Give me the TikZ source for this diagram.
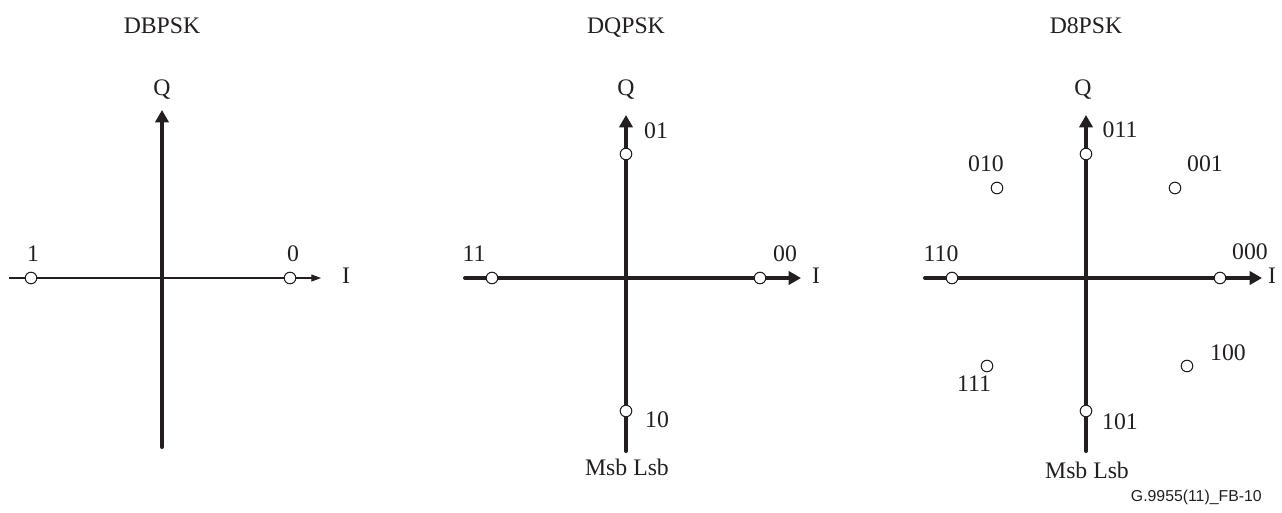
\documentclass[tikz,border=0pt]{standalone}
\usepackage{fontspec}
\setmainfont{Liberation Serif}
\newfontfamily\capfont{Liberation Sans}
\definecolor{axgray}{RGB}{35,31,32}
\usetikzlibrary{arrows.meta,positioning}

\begin{document}
\begin{tikzpicture}[x=0.02cm, y=-0.02cm, color=axgray,
  lbl/.style={font=\fontsize{13.5}{15}\selectfont, inner sep=0pt, anchor=base},
  pt/.style={circle, draw=axgray, fill=white, line width=0.6pt, minimum size=6.6pt, inner sep=0pt},
  axthick/.style={line width=2.3pt, line cap=round, -{Triangle[length=7pt,width=7.5pt]}},
  axthin/.style={line width=0.6pt, -{Triangle[length=5.5pt,width=4pt]}}]
  \useasboundingbox (0,0) rectangle (1282,512);
  % DBPSK
  \node[lbl] (tB) at (162,33) {DBPSK};
  \coordinate (bL) at (9,278);
  \coordinate (bR) at (321,278);
  \coordinate (bD) at (162,447);
  \coordinate (bU) at (162,110);
  \draw[axthin] (bL) -- (bR);
  \draw[axthick] (bD) -- (bU);
  \node[pt] (b1) at (31,278) {};
  \node[pt] (b0) at (290,278) {};
  \node[lbl] (qB) at (162,95) {Q};
  \node[lbl] (iB) at (346,283) {I};
  \node[lbl] (lb1) at (33,261) {1};
  \node[lbl] (lb0) at (293,261) {0};
  % DQPSK
  \node[lbl] (tQ) at (626,33) {DQPSK};
  \coordinate (qL) at (465,278);
  \coordinate (qR) at (801,278);
  \coordinate (qD) at (626,451);
  \coordinate (qU) at (626,115);
  \draw[axthick] (qL) -- (qR);
  \draw[axthick] (qD) -- (qU);
  \node[pt] (q01) at (626,154) {};
  \node[pt] (q10) at (626,411) {};
  \node[pt] (q11) at (492,278) {};
  \node[pt] (q00) at (760,278) {};
  \node[lbl] (qQ) at (626,95) {Q};
  \node[lbl] (qI) at (816,283) {I};
  \node[lbl] (lq01) at (656,138) {01};
  \node[lbl] (lq10) at (657,427) {10};
  \node[lbl] (lq11) at (474,261) {11};
  \node[lbl] (lq00) at (785,261) {00};
  \node[lbl] (mQ) at (627,475) {Msb Lsb};
  % D8PSK
  \node[lbl] (t8) at (1086,33) {D8PSK};
  \coordinate (eL) at (925,278);
  \coordinate (eR) at (1262,278);
  \coordinate (eD) at (1086,451);
  \coordinate (eU) at (1086,115);
  \draw[axthick] (eL) -- (eR);
  \draw[axthick] (eD) -- (eU);
  \node[pt] (e011) at (1086,154) {};
  \node[pt] (e101) at (1086,411) {};
  \node[pt] (e110) at (952,278) {};
  \node[pt] (e000) at (1220,278) {};
  \node[pt] (e010) at (997,188) {};
  \node[pt] (e001) at (1175,188) {};
  \node[pt] (e111) at (987,366) {};
  \node[pt] (e100) at (1187,366) {};
  \node[lbl] (eQ) at (1083,95) {Q};
  \node[lbl] (eI) at (1272,283) {I};
  \node[lbl] (le011) at (1120,137) {011};
  \node[lbl] (le010) at (986,171) {010};
  \node[lbl] (le001) at (1205,171) {001};
  \node[lbl] (le110) at (941,261) {110};
  \node[lbl] (le000) at (1250,259) {000};
  \node[lbl] (le111) at (974,391) {111};
  \node[lbl] (le100) at (1228,360) {100};
  \node[lbl] (le101) at (1120,429) {101};
  \node[lbl] (m8) at (1087,478) {Msb Lsb};
  \node[inner sep=0pt, anchor=east, font=\capfont\fontsize{9}{11}\selectfont] (cap) at (1262,497) {G.9955(11)\_FB-10};
\end{tikzpicture}
\end{document}
